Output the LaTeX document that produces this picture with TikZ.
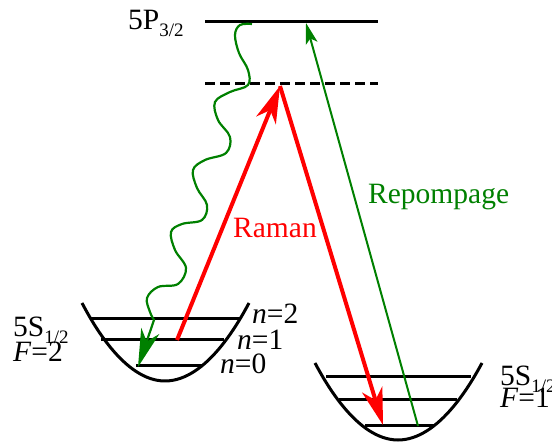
\documentclass[tikz,border=0pt]{standalone}
\usepackage{fontspec}
\setmainfont{Liberation Serif}
\usetikzlibrary{arrows.meta}
\definecolor{dkgreen}{RGB}{0,128,0}
\tikzset{
  lev/.style={line width=3pt},
  dlev/.style={line width=3pt, dash pattern=on 10pt off 5pt},
  ram/.style={red, line width=4pt, -{Stealth[length=37pt,width=21pt,inset=11pt]}},
  rep/.style={dkgreen, line width=2pt, -{Stealth[length=21pt,width=12pt,inset=5pt]}},
  wav/.style={dkgreen, line width=2.2pt, -{Stealth[length=38pt,width=19pt,inset=11pt]}},
  lbl/.style={inner sep=0pt, anchor=base west, font=\fontsize{29.5}{29.5}\selectfont},
  lbl2/.style={inner sep=0pt, anchor=north west, align=left},
}
\newcommand{\sbx}[1]{\raisebox{-0.22em}[\height][0pt]{\fontsize{19}{19}\selectfont #1}}
\begin{document}
\begin{tikzpicture}[x=1pt,y=-1pt]
\useasboundingbox (0,0) rectangle (552,443);
% upper levels
\draw[lev] (205,22) -- (378,22);
\draw[dlev] (205,84) -- (378,84);
\node[lbl] (p32) at (128,30) {5P\sbx{3/2}};
% left well
\draw[lev] (82,303) parabola bend (165,381) (249,303);
\draw[lev] (91,319) -- (240,319);
\draw[lev] (101,340) -- (224,340);
\draw[lev] (136,366) -- (203,366);
\node[lbl2, font=\fontsize{29.5}{25}\selectfont] (s1) at (13,317) {5S\sbx{1/2}\\\textit{F}=2};
\node[lbl] (n2) at (252,324) {\textit{n}=2};
\node[lbl] (n1) at (237,350) {\textit{n}=1};
\node[lbl] (n0) at (220,374) {\textit{n}=0};
% right well
\draw[lev] (315,363) parabola bend (398,440) (482,363);
\draw[lev] (326,377) -- (471,377);
\draw[lev] (339,400) -- (457,400);
\draw[lev] (365,426) -- (435,426);
\node[lbl2, font=\fontsize{29.5}{22}\selectfont] (s2) at (500,366) {5S\sbx{1/2}\\\textit{F}=1};
% coordinates
\coordinate (a) at (177,340);
\coordinate (v) at (280,86);
\coordinate (b) at (383,425);
\coordinate (c) at (418,426);
\coordinate (d) at (306,23);
\coordinate (w) at (138,367);
% arrows
\draw[ram] (a) -- (v);
\draw[ram] (v) -- (b);
\draw[rep] (c) -- (d);
\draw[wav] plot[smooth, tension=0.6] coordinates {(252,24) (240,25) (235,35) (239,53) (248,70) (248,85) (230,92) (215,102) (218,120) (230,137) (226,153) (205,160) (193,170) (197,188) (207,205) (202,220) (182,224) (171,232) (175,250) (186,268) (178,284) (158,287) (147,298) (150,312) (154,320)} -- (w);
\node[lbl, text=red] (raman) at (233,238) {Raman};
\node[lbl, text=dkgreen] (repomp) at (368,204) {Repompage};
\end{tikzpicture}
\end{document}
